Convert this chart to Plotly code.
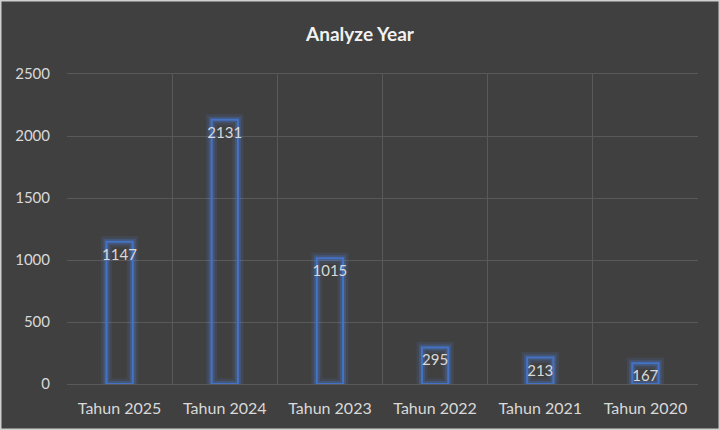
import plotly.graph_objects as go

years = ["Tahun 2025", "Tahun 2024", "Tahun 2023", "Tahun 2022", "Tahun 2021", "Tahun 2020"]
counts = [1147, 2131, 1015, 295, 213, 167]

bg = "#404040"
grid = "#595959"
blue = "#4472C4"
txt = "#D9D9D9"
font_family = "Lato, 'Open Sans', sans-serif"

fig = go.Figure()

# soft glow behind the outline (two layers)
for w, a in [(11, 0.12), (6, 0.25)]:
    fig.add_trace(
        go.Bar(
            x=years, y=counts,
            width=0.25,
            marker=dict(color="rgba(0,0,0,0)",
                        line=dict(color=f"rgba(80,130,230,{a})", width=w)),
            hoverinfo="skip",
        )
    )

fig.add_trace(
    go.Bar(
        x=years, y=counts,
        width=0.25,
        marker=dict(color="rgba(0,0,0,0)", line=dict(color=blue, width=2)),
        text=[str(c) for c in counts],
        textposition="inside",
        insidetextanchor="end",
        textangle=0,
        constraintext="none",
        textfont=dict(color=txt, size=15, family=font_family),
    )
)

W, H = 720, 430
ml, mr, mt, mb = 67, 22, 74, 46
pw, ph = W - ml - mr, H - mt - mb

fig.update_layout(
    width=W, height=H,
    barmode="overlay",
    showlegend=False,
    paper_bgcolor=bg,
    plot_bgcolor=bg,
    margin=dict(l=ml, r=mr, t=mt, b=mb),
    title=dict(text="<b>Analyze Year</b>", x=0.5, xanchor="center",
               y=1 - 34 / H, yanchor="middle",
               font=dict(size=19, color="#F2F2F2", family=font_family)),
    font=dict(family=font_family, color=txt, size=15),
    xaxis=dict(
        tickson="boundaries", showgrid=True, gridcolor=grid, gridwidth=1,
        ticks="", showline=True, linecolor=grid, mirror=True,
        tickfont=dict(size=16, color=txt), ticklabelstandoff=10,
    ),
    yaxis=dict(
        range=[0, 2500], dtick=500, showgrid=True, gridcolor=grid, gridwidth=1,
        zeroline=False, ticks="", showline=False,
        tickfont=dict(size=15, color=txt), ticklabelstandoff=16,
    ),
    shapes=[dict(
        type="rect", xref="paper", yref="paper",
        x0=-ml / pw + 0.75 / pw, x1=1 + mr / pw - 0.75 / pw,
        y0=-mb / ph + 0.75 / ph, y1=1 + mt / ph - 0.75 / ph,
        line=dict(color="#D0D0D0", width=1.5), layer="below",
    )],
)

fig.write_html("out.html", config={"displayModeBar": False},
               post_script="document.body.style.margin='0';")
